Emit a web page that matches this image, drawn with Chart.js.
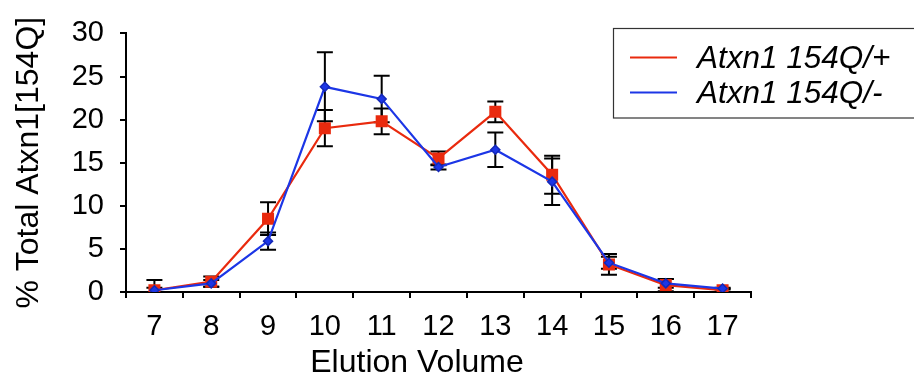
<!DOCTYPE html>
<html>
<head>
<meta charset="utf-8">
<script src="https://cdn.jsdelivr.net/npm/chart.js@4/dist/chart.umd.min.js"></script>
<style>
html,body{margin:0;padding:0;background:#fff;}
#wrap{width:914px;height:390px;position:relative;}
</style>
</head>
<body>
<div id="wrap"><canvas id="c" width="914" height="390"></canvas></div>
<script>
const categories = ['7','8','9','10','11','12','13','14','15','16','17'];
const plusValues  = [0.2, 1.2, 8.5, 19.0, 19.8, 15.5, 20.9, 13.6, 3.2, 0.8, 0.2];
const plusErrors  = [1.2, 0.6, 1.9, 2.1, 1.5, 0.8, 1.2, 2.2, 1.2, 0.7, 0.2];
const minusValues = [0.2, 1.0, 5.9, 23.8, 22.4, 14.5, 16.5, 12.8, 3.4, 1.0, 0.4];
const minusErrors = [0.3, 0.4, 1.0, 4.0, 2.7, 0.3, 2.0, 2.7, 0.7, 0.5, 0.1];
const yTicks = [0, 5, 10, 15, 20, 25, 30];
const seriesNames = ['Atxn1 154Q/+', 'Atxn1 154Q/-'];
const xTitle = 'Elution Volume';
const yTitle = '% Total Atxn1[154Q]';

const RED = '#e92a0e';
const BLUE = '#1c36e6';
const FONT = "'Liberation Sans', Arial, sans-serif";

const errorBars = {
  id: 'errorBars',
  beforeDatasetsDraw(chart) {
    const {ctx, chartArea, scales} = chart;
    const x = scales.x, y = scales.y;
    ctx.save();
    ctx.beginPath();
    ctx.rect(chartArea.left, 0, chartArea.right - chartArea.left, chartArea.bottom);
    ctx.clip();
    ctx.strokeStyle = '#000';
    ctx.lineWidth = 2;
    chart.data.datasets.forEach(ds => {
      ds.data.forEach((v, i) => {
        const e = ds.errors[i];
        const px = x.getPixelForValue(i);
        const t = y.getPixelForValue(v + e);
        const b = y.getPixelForValue(v - e);
        ctx.beginPath();
        ctx.moveTo(px, t); ctx.lineTo(px, b);
        ctx.moveTo(px - 8, t); ctx.lineTo(px + 8, t);
        ctx.moveTo(px - 8, b); ctx.lineTo(px + 8, b);
        ctx.stroke();
      });
    });
    ctx.restore();
  }
};

const extras = {
  id: 'extras',
  afterDraw(chart) {
    const ctx = chart.ctx;
    ctx.save();
    // x axis title
    ctx.fillStyle = '#000';
    ctx.font = "32px " + FONT;
    ctx.textAlign = 'center';
    ctx.textBaseline = 'alphabetic';
    ctx.fillText(xTitle, 417, 372);
    // legend
    ctx.strokeStyle = '#333';
    ctx.lineWidth = 1.2;
    ctx.strokeRect(613.5, 28.5, 310, 89.5);
    const rows = [
      {name: seriesNames[0], color: RED, y: 57.5},
      {name: seriesNames[1], color: BLUE, y: 92.5}
    ];
    rows.forEach(r => {
      ctx.strokeStyle = r.color;
      ctx.lineWidth = 2.2;
      ctx.beginPath();
      ctx.moveTo(630, r.y); ctx.lineTo(677, r.y);
      ctx.stroke();
      ctx.fillStyle = '#000';
      ctx.font = "italic 31.5px " + FONT;
      ctx.textAlign = 'left';
      ctx.textBaseline = 'alphabetic';
      ctx.fillText(r.name, 697, r.y + 10);
    });
    ctx.restore();
  }
};

new Chart(document.getElementById('c'), {
  type: 'line',
  data: {
    labels: categories,
    datasets: [
      {
        label: seriesNames[1],
        data: minusValues,
        errors: minusErrors,
        borderColor: BLUE,
        backgroundColor: BLUE,
        borderWidth: 2.2,
        pointStyle: 'rectRot',
        pointRadius: 4.5,
        pointBorderColor: '#1428b8',
        pointBorderWidth: 1.5,
        tension: 0,
        order: 1
      },
      {
        label: seriesNames[0],
        data: plusValues,
        errors: plusErrors,
        borderColor: RED,
        backgroundColor: RED,
        borderWidth: 2.2,
        pointStyle: 'rect',
        pointRadius: 8.5,
        pointBorderWidth: 0,
        tension: 0,
        order: 2
      }
    ]
  },
  options: {
    responsive: false,
    animation: false,
    events: [],
    layout: {padding: {top: 21, right: 163, left: 0, bottom: 0}},
    plugins: {legend: {display: false}, tooltip: {enabled: false}},
    scales: {
      x: {
        type: 'category',
        offset: true,
        grid: {offset: true, display: true, drawOnChartArea: false, drawTicks: true, tickLength: 6, color: '#000', lineWidth: 2},
        border: {display: true, color: '#000', width: 2},
        ticks: {color: '#000', font: {family: FONT, size: 29}, padding: 12, maxRotation: 0, autoSkip: false},
        title: {display: false},
        afterFit(s) { s.height = 98; }
      },
      y: {
        min: 0, max: 30,
        afterBuildTicks(s) { s.ticks = yTicks.map(v => ({value: v})); },
        grid: {display: true, drawOnChartArea: false, drawTicks: true, tickLength: 6, color: '#000', lineWidth: 2},
        border: {display: true, color: '#000', width: 2},
        ticks: {color: '#000', font: {family: FONT, size: 29}, padding: 16},
        title: {display: true, text: yTitle, color: '#000', font: {family: FONT, size: 32}, padding: {top: 10, bottom: 0}},
        afterFit(s) { s.width = 126; }
      }
    }
  },
  plugins: [errorBars, extras]
});
</script>
</body>
</html>
